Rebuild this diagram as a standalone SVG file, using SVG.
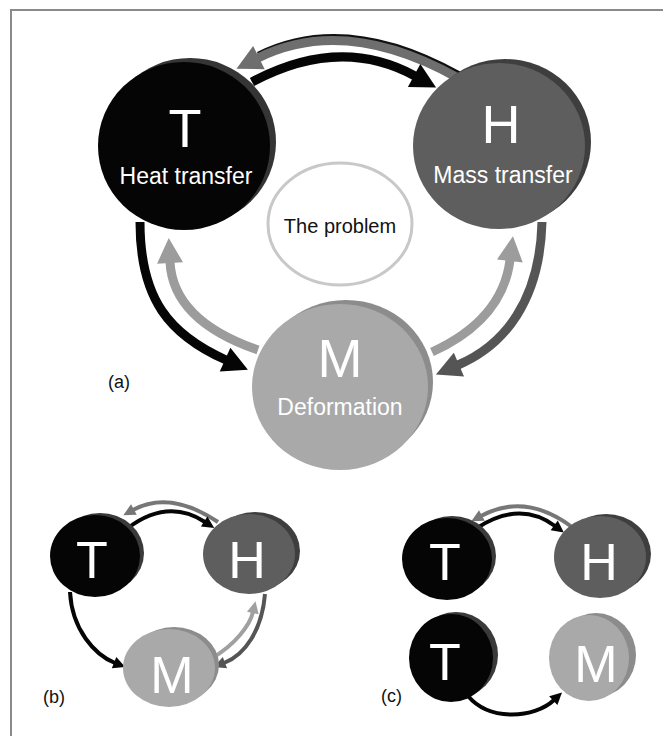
<svg xmlns="http://www.w3.org/2000/svg" width="663" height="736" viewBox="0 0 663 736">
<defs>
<style>
.lbl{font-family:"Liberation Sans",Arial,sans-serif;fill:#ffffff;text-anchor:middle}
.big{font-size:54px}
.sub{font-size:23px}
.sm{font-size:52px}
.tag{font-family:"Liberation Sans",Arial,sans-serif;font-size:18px;fill:#111}
.prob{font-family:"Liberation Sans",Arial,sans-serif;font-size:20px;fill:#111;text-anchor:middle}
.a{fill:none;stroke-linecap:butt}
.w9{stroke-width:9}
.w4{stroke-width:4}
</style>
<marker id="hk" markerUnits="userSpaceOnUse" markerWidth="30" markerHeight="32" viewBox="0 -16 28 32" refX="1" refY="0" orient="auto"><path d="M0,-13 L25,0 L0,13 z" fill="#050505"/></marker>
<marker id="hd" markerUnits="userSpaceOnUse" markerWidth="30" markerHeight="32" viewBox="0 -16 28 32" refX="1" refY="0" orient="auto"><path d="M0,-13 L25,0 L0,13 z" fill="#555555"/></marker>
<marker id="hl" markerUnits="userSpaceOnUse" markerWidth="30" markerHeight="32" viewBox="0 -16 28 32" refX="1" refY="0" orient="auto"><path d="M0,-13 L25,0 L0,13 z" fill="#9c9c9c"/></marker>
<marker id="hg" markerUnits="userSpaceOnUse" markerWidth="30" markerHeight="32" viewBox="0 -16 28 32" refX="1" refY="0" orient="auto"><path d="M0,-13 L25,0 L0,13 z" fill="#6e6e6e"/></marker>
<marker id="sk" markerUnits="userSpaceOnUse" markerWidth="16" markerHeight="16" viewBox="0 -8 14 16" refX="1" refY="0" orient="auto"><path d="M0,-6 L12,0 L0,6 z" fill="#050505"/></marker>
<marker id="sd" markerUnits="userSpaceOnUse" markerWidth="16" markerHeight="16" viewBox="0 -8 14 16" refX="1" refY="0" orient="auto"><path d="M0,-6 L12,0 L0,6 z" fill="#555555"/></marker>
<marker id="sl" markerUnits="userSpaceOnUse" markerWidth="16" markerHeight="16" viewBox="0 -8 14 16" refX="1" refY="0" orient="auto"><path d="M0,-6 L12,0 L0,6 z" fill="#a0a0a0"/></marker>
<marker id="sg" markerUnits="userSpaceOnUse" markerWidth="16" markerHeight="16" viewBox="0 -8 14 16" refX="1" refY="0" orient="auto"><path d="M0,-6 L12,0 L0,6 z" fill="#777777"/></marker>
</defs>
<rect width="663" height="736" fill="#ffffff"/>
<path d="M11,736 L11,10 L663,10" fill="none" stroke="#8a8a8a" stroke-width="2"/>

<g id="connectors">
  <!-- (a) -->
  <path class="a w9" d="M458,78 Q345,15 258,58" stroke="#111" transform="translate(1,-2)"/>
  <path class="a w9" d="M458,78 Q345,15 258,58" stroke="#6e6e6e" marker-end="url(#hg)"/>
  <path class="a w9" d="M252,82 Q340,35 415,76" stroke="#050505" marker-end="url(#hk)"/>
  <path class="a w9" d="M140,222 C140,300 170,335 226,360" stroke="#050505" marker-end="url(#hk)"/>
  <path class="a w9" d="M258,350 C200,330 172,300 170,262" stroke="#9c9c9c" marker-end="url(#hl)"/>
  <path class="a w9" d="M432,352 C480,330 505,300 510,260" stroke="#9c9c9c" marker-end="url(#hl)"/>
  <path class="a w9" d="M542,222 C540,300 505,345 458,365" stroke="#555555" marker-end="url(#hd)"/>
  <!-- (b) -->
  <path class="a w4" d="M218,522 Q170,490 133,510" stroke="#777" marker-end="url(#sg)"/>
  <path class="a w4" d="M128,528 Q168,498 205,522" stroke="#050505" marker-end="url(#sk)"/>
  <path class="a w4" d="M70,592 C72,630 95,655 115,663" stroke="#050505" marker-end="url(#sk)"/>
  <path class="a w4" d="M265,594 C262,630 245,655 224,663" stroke="#555555" marker-end="url(#sd)"/>
  <path class="a w4" d="M212,658 C235,645 250,625 253,612" stroke="#a0a0a0" marker-end="url(#sl)"/>
  <!-- (c) -->
  <path class="a w4" d="M572,527 Q525,492 481,516" stroke="#777" marker-end="url(#sg)"/>
  <path class="a w4" d="M477,528 Q520,500 555,526" stroke="#050505" marker-end="url(#sk)"/>
  <path class="a w4" d="M468,696 C490,722 535,718 554,700" stroke="#050505" marker-end="url(#sk)"/>
</g>

<!-- (a) nodes -->
<g id="a-T">
  <ellipse cx="190" cy="142" rx="86" ry="84" fill="#353535"/>
  <ellipse cx="184" cy="146" rx="86" ry="84" fill="#050505"/>
  <text class="lbl big" x="185" y="147">T</text>
  <text class="lbl sub" x="186" y="184">Heat transfer</text>
</g>
<g id="a-H">
  <ellipse cx="505" cy="142" rx="86" ry="83" fill="#3e3e3e"/>
  <ellipse cx="499" cy="146" rx="86" ry="83" fill="#5e5e5e"/>
  <text class="lbl big" x="501" y="143">H</text>
  <text class="lbl sub" x="503" y="183">Mass transfer</text>
</g>
<g id="a-P">
  <ellipse cx="340" cy="224" rx="72" ry="61" fill="#ffffff" stroke="#c8c8c8" stroke-width="3"/>
  <text class="prob" x="340" y="233">The problem</text>
</g>
<g id="a-M">
  <ellipse cx="346" cy="382" rx="87" ry="82" fill="#8c8c8c"/>
  <ellipse cx="340" cy="387" rx="88" ry="83" fill="#a9a9a9"/>
  <text class="lbl big" x="340" y="377">M</text>
  <text class="lbl sub" x="340" y="415">Deformation</text>
</g>
<text class="tag" x="108" y="388">(a)</text>

<!-- (b) nodes -->
<g id="b-T">
  <ellipse cx="100" cy="553" rx="44" ry="40" fill="#3a3a3a"/>
  <ellipse cx="95" cy="556" rx="45" ry="41" fill="#050505"/>
  <text class="lbl sm" x="92" y="578">T</text>
</g>
<g id="b-H">
  <ellipse cx="255" cy="551" rx="45" ry="39" fill="#3e3e3e"/>
  <ellipse cx="249" cy="554" rx="46" ry="40" fill="#5e5e5e"/>
  <text class="lbl sm" x="247" y="578">H</text>
</g>
<g id="b-M">
  <ellipse cx="174" cy="665" rx="45" ry="38" fill="#8c8c8c"/>
  <ellipse cx="169" cy="668" rx="46" ry="39" fill="#a9a9a9"/>
  <text class="lbl sm" x="172" y="693">M</text>
</g>
<text class="tag" x="43" y="703">(b)</text>

<!-- (c) nodes -->
<g id="c-T1">
  <ellipse cx="452" cy="556" rx="44" ry="40" fill="#3a3a3a"/>
  <ellipse cx="447" cy="559" rx="45" ry="41" fill="#050505"/>
  <text class="lbl sm" x="445" y="580">T</text>
</g>
<g id="c-H">
  <ellipse cx="606" cy="554" rx="45" ry="40" fill="#3e3e3e"/>
  <ellipse cx="600" cy="557" rx="46" ry="41" fill="#5e5e5e"/>
  <text class="lbl sm" x="599" y="580">H</text>
</g>
<g id="c-T2">
  <ellipse cx="456" cy="655" rx="42" ry="43" fill="#3a3a3a"/>
  <ellipse cx="451" cy="658" rx="42" ry="44" fill="#050505"/>
  <text class="lbl sm" x="445" y="680">T</text>
</g>
<g id="c-M">
  <ellipse cx="596" cy="655" rx="40" ry="42" fill="#8c8c8c"/>
  <ellipse cx="589" cy="658" rx="40" ry="43" fill="#a9a9a9"/>
  <text class="lbl sm" x="596" y="682">M</text>
</g>
<text class="tag" x="381" y="702">(c)</text>
</svg>
